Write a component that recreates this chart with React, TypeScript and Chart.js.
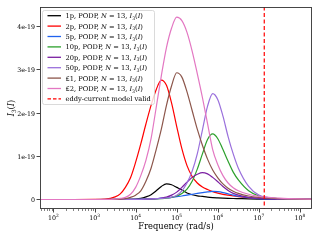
import React, { useEffect, useRef } from 'react';
import { Chart, registerables } from 'chart.js';

Chart.register(...registerables);

// log10 of angular frequency (rad/s) at which the curves were read
const logFreq = [1.5, 2, 2.5, 3, 3.25, 3.5, 3.625, 3.75, 3.875, 4, 4.125, 4.25, 4.375, 4.5, 4.625, 4.75, 4.875, 5, 5.125, 5.25, 5.375, 5.5, 5.625, 5.75, 5.875, 6, 6.125, 6.25, 6.375, 6.5, 6.75, 7, 7.5, 8, 8.5];

// I3 values in units of 1e-19
const coin1p = [0, 0, 0, 0, 0, 0.001, 0.002, 0.003, 0.005, 0.01, 0.025, 0.06, 0.11, 0.2, 0.3, 0.36, 0.34, 0.28, 0.22, 0.15, 0.11, 0.085, 0.07, 0.055, 0.045, 0.038, 0.032, 0.027, 0.023, 0.02, 0.014, 0.01, 0.005, 0.002, 0.001];
const coin2p = [0, 0, 0, 0.001, 0.008, 0.06, 0.13, 0.28, 0.5, 0.86, 1.28, 1.74, 2.17, 2.53, 2.75, 2.63, 2.22, 1.68, 1.17, 0.78, 0.53, 0.38, 0.29, 0.23, 0.18, 0.145, 0.12, 0.1, 0.08, 0.065, 0.045, 0.03, 0.015, 0.007, 0.003];
const coin5p = [0, 0, 0, 0, 0, 0.001, 0.002, 0.003, 0.004, 0.005, 0.007, 0.01, 0.014, 0.02, 0.03, 0.04, 0.05, 0.065, 0.08, 0.1, 0.12, 0.14, 0.158, 0.175, 0.185, 0.18, 0.16, 0.13, 0.1, 0.075, 0.04, 0.02, 0.006, 0.002, 0.001];
const coin10p = [0, 0, 0, 0, 0, 0, 0, 0.001, 0.002, 0.003, 0.005, 0.007, 0.01, 0.014, 0.02, 0.03, 0.05, 0.08, 0.14, 0.24, 0.42, 0.7, 1.05, 1.38, 1.51, 1.4, 1.15, 0.88, 0.63, 0.45, 0.2, 0.08, 0.02, 0.005, 0.001];
const coin20p = [0, 0, 0, 0, 0, 0, 0, 0.001, 0.002, 0.003, 0.005, 0.008, 0.012, 0.02, 0.035, 0.055, 0.1, 0.17, 0.28, 0.4, 0.51, 0.58, 0.62, 0.59, 0.51, 0.41, 0.3, 0.21, 0.14, 0.1, 0.05, 0.025, 0.008, 0.002, 0.001];
const coin50p = [0, 0, 0, 0, 0, 0, 0, 0.001, 0.002, 0.003, 0.005, 0.008, 0.012, 0.018, 0.025, 0.035, 0.055, 0.1, 0.2, 0.38, 0.65, 1.05, 1.6, 2.15, 2.44, 2.3, 1.92, 1.45, 1.05, 0.72, 0.3, 0.1, 0.02, 0.005, 0.001];
const coinL1 = [0, 0, 0, 0, 0.001, 0.003, 0.008, 0.02, 0.05, 0.1, 0.2, 0.42, 0.72, 1.15, 1.62, 2.17, 2.62, 2.92, 2.82, 2.48, 2.05, 1.62, 1.25, 0.93, 0.68, 0.5, 0.36, 0.26, 0.19, 0.14, 0.08, 0.05, 0.02, 0.008, 0.003];
const coinL2 = [0, 0, 0, 0, 0.003, 0.01, 0.025, 0.05, 0.12, 0.28, 0.55, 0.9, 1.4, 2.12, 2.85, 3.5, 3.95, 4.2, 4.12, 3.85, 3.42, 2.9, 2.35, 1.75, 1.15, 0.8, 0.55, 0.38, 0.27, 0.2, 0.12, 0.07, 0.03, 0.012, 0.005];

const coinNames = ['1p', '2p', '5p', '10p', '20p', '50p', '£1', '£2'];
const coinColors = ['#000000', '#ff0000', '#2062ee', '#2ca02c', '#7b1fa2', '#9a70dc', '#8c564b', '#e377c2'];
const coinSeries = [coin1p, coin2p, coin5p, coin10p, coin20p, coin50p, coinL1, coinL2];

const validLimit = 1.35e7; // eddy-current model validity limit (rad/s)
const validLabel = 'eddy-current model valid';

const yUnit = 1e-19;
const yTicks = [0, 1, 2, 3, 4];
const xDecades = [2, 3, 4, 5, 6, 7, 8];
const xMin = 47;
const xMax = 1.96e8;
const yMin = -0.219;
const yMax = 4.435;

const SERIF = '"DejaVu Serif", "Liberation Serif", serif';

type Seg = { t: string; it?: boolean; sc?: number; dy?: number };

function richWidth(ctx: CanvasRenderingContext2D, segs: Seg[], size: number) {
  let w = 0;
  for (const s of segs) {
    ctx.font = `${s.it ? 'italic ' : ''}${size * (s.sc || 1)}px ${SERIF}`;
    w += ctx.measureText(s.t).width;
  }
  return w;
}

function drawRich(ctx: CanvasRenderingContext2D, segs: Seg[], x: number, y: number, size: number, align: 'left' | 'center' | 'right') {
  const w = richWidth(ctx, segs, size);
  let cx = align === 'left' ? x : align === 'center' ? x - w / 2 : x - w;
  ctx.textAlign = 'left';
  ctx.textBaseline = 'alphabetic';
  for (const s of segs) {
    ctx.font = `${s.it ? 'italic ' : ''}${size * (s.sc || 1)}px ${SERIF}`;
    ctx.fillText(s.t, cx, y + (s.dy || 0) * size);
    cx += ctx.measureText(s.t).width;
  }
}

function legendSegs(name: string): Seg[] {
  return [
    { t: `${name}, PODP, ` },
    { t: 'N', it: true },
    { t: ' = 13, ' },
    { t: 'I', it: true },
    { t: '3', sc: 0.7, dy: 0.25 },
    { t: '(' },
    { t: 'I', it: true },
    { t: ')' },
  ];
}

const axesPlugin = {
  id: 'mplAxes',
  afterDatasetsDraw(chart: any) {
    const { ctx, chartArea } = chart;
    const { left, right, top, bottom } = chartArea;
    const xs = chart.scales.x;
    const ys = chart.scales.y;
    ctx.save();
    // frame
    ctx.strokeStyle = '#333';
    ctx.lineWidth = 0.9;
    ctx.strokeRect(left + 0.5, top + 0.5, right - left - 1, bottom - top - 1);
    ctx.fillStyle = '#000';
    // x ticks
    for (let d = 1; d <= 8; d++) {
      for (let m = 1; m <= 9; m++) {
        const v = m * Math.pow(10, d);
        if (v < xMin || v > xMax) continue;
        const px = Math.round(xs.getPixelForValue(v)) + 0.5;
        ctx.beginPath();
        ctx.lineWidth = m === 1 ? 0.9 : 0.6;
        ctx.moveTo(px, bottom);
        ctx.lineTo(px, bottom + (m === 1 ? 3.5 : 2));
        ctx.stroke();
      }
    }
    for (const d of xDecades) {
      const px = xs.getPixelForValue(Math.pow(10, d));
      drawRich(ctx, [{ t: '10' }, { t: String(d), sc: 0.7, dy: -0.4 }], px, bottom + 11, 6.3, 'center');
    }
    // y ticks
    for (const v of yTicks) {
      const py = Math.round(ys.getPixelForValue(v * yUnit)) + 0.5;
      ctx.beginPath();
      ctx.lineWidth = 0.9;
      ctx.moveTo(left - 3.5, py);
      ctx.lineTo(left, py);
      ctx.stroke();
      drawRich(ctx, [{ t: v === 0 ? '0' : `${v}e-19` }], left - 5, py + 2.3, 6.3, 'right');
    }
    // axis labels
    drawRich(ctx, [{ t: 'Frequency (rad/s)' }], (left + right) / 2, 229, 8.3, 'center');
    ctx.save();
    ctx.translate(14, (top + bottom) / 2);
    ctx.rotate(-Math.PI / 2);
    drawRich(ctx, [{ t: 'I', it: true }, { t: '3', sc: 0.7, dy: 0.25 }, { t: '(' }, { t: 'I', it: true }, { t: ')' }], 0, 0, 8.3, 'center');
    ctx.restore();

    // legend
    const bx = 42.5, by = 10.5, bw = 112, bh = 94, r = 2;
    ctx.beginPath();
    ctx.moveTo(bx + r, by);
    ctx.lineTo(bx + bw - r, by);
    ctx.arcTo(bx + bw, by, bx + bw, by + r, r);
    ctx.lineTo(bx + bw, by + bh - r);
    ctx.arcTo(bx + bw, by + bh, bx + bw - r, by + bh, r);
    ctx.lineTo(bx + r, by + bh);
    ctx.arcTo(bx, by + bh, bx, by + bh - r, r);
    ctx.lineTo(bx, by + r);
    ctx.arcTo(bx, by, bx + r, by, r);
    ctx.closePath();
    ctx.fillStyle = 'rgba(255,255,255,0.8)';
    ctx.fill();
    ctx.strokeStyle = '#d0d0d0';
    ctx.lineWidth = 0.8;
    ctx.stroke();
    const rowY0 = 15.7, rowStep = 10.4;
    const rows = coinNames.length + 1;
    for (let i = 0; i < rows; i++) {
      const yy = rowY0 + i * rowStep;
      ctx.beginPath();
      ctx.lineWidth = 1.3;
      if (i < coinNames.length) {
        ctx.strokeStyle = coinColors[i];
        ctx.setLineDash([]);
      } else {
        ctx.strokeStyle = '#ff0000';
        ctx.setLineDash([3.5, 2]);
      }
      ctx.moveTo(47.5, yy);
      ctx.lineTo(61, yy);
      ctx.stroke();
      ctx.setLineDash([]);
      ctx.fillStyle = '#000';
      const segs = i < coinNames.length ? legendSegs(coinNames[i]) : [{ t: validLabel }];
      drawRich(ctx, segs, 65.5, yy + 2.4, 6.7, 'left');
    }
    ctx.restore();
  },
};

export default function App() {
  const ref = useRef<HTMLCanvasElement | null>(null);
  useEffect(() => {
    document.body.style.margin = '0';
    const canvas = ref.current;
    if (!canvas) return;
    const datasets: any[] = coinSeries.map((vals, i) => ({
      label: `${coinNames[i]}, PODP, N = 13, I3(I)`,
      data: logFreq.map((e, k) => ({ x: Math.pow(10, e), y: vals[k] * yUnit })),
      borderColor: coinColors[i],
      borderWidth: 1.2,
      pointRadius: 0,
      fill: false,
      cubicInterpolationMode: 'monotone',
      order: 20 - i,
    }));
    datasets.push({
      label: validLabel,
      data: [
        { x: validLimit, y: yMin * 2 * yUnit },
        { x: validLimit, y: yMax * 2 * yUnit },
      ],
      borderColor: '#ff0000',
      borderWidth: 1.2,
      borderDash: [4, 2.5],
      pointRadius: 0,
      fill: false,
      order: 1,
    });
    const chart = new Chart(canvas, {
      type: 'line',
      data: { datasets },
      options: {
        animation: false,
        responsive: false,
        devicePixelRatio: 1,
        layout: { padding: { left: 40, right: 8, top: 7, bottom: 31 } },
        plugins: { legend: { display: false }, tooltip: { enabled: false }, title: { display: false } },
        scales: {
          x: { type: 'logarithmic', min: xMin, max: xMax, display: false },
          y: { type: 'linear', min: yMin * yUnit, max: yMax * yUnit, display: false },
        },
      },
      plugins: [axesPlugin],
    });
    return () => chart.destroy();
  }, []);
  return (
    <div style={{ position: 'fixed', left: 0, top: 0, width: 320, height: 240, background: '#fff' }}>
      <canvas ref={ref} width={320} height={240} />
    </div>
  );
}
